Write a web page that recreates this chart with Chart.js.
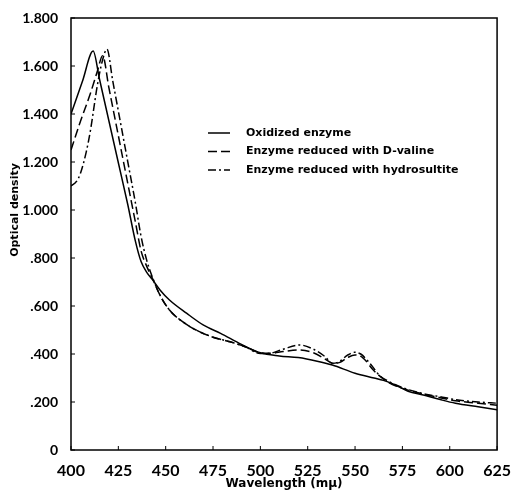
<!DOCTYPE html>
<html>
<head>
<meta charset="utf-8">
<script src="https://cdn.jsdelivr.net/npm/chart.js@4.4.0/dist/chart.umd.min.js"></script>
<style>
  html, body { margin: 0; padding: 0; background: #fff; }
</style>
</head>
<body>
<canvas id="spectrumChart" width="514" height="493"></canvas>
<script>
// Absorption spectra (wavelength in mμ, optical density)
const seriesLabels = ['Oxidized enzyme', 'Enzyme reduced with D-valine', 'Enzyme reduced with hydrosultite'];

const oxidizedWl = [400, 406, 411.7, 415, 420, 425, 430, 434, 437, 440, 443, 447, 452, 461, 470, 479, 490, 500, 510, 520, 530, 538, 550, 560, 565, 570, 578, 586, 595, 603, 615, 625];
const oxidizedOd = [1.40, 1.535, 1.662, 1.547, 1.372, 1.197, 1.022, 0.87, 0.785, 0.74, 0.71, 0.667, 0.625, 0.57, 0.52, 0.486, 0.44, 0.405, 0.392, 0.385, 0.37, 0.354, 0.32, 0.30, 0.29, 0.275, 0.245, 0.229, 0.21, 0.195, 0.18, 0.168];

const valineWl = [400, 405, 410, 414, 416.7, 420, 425, 430, 434, 437, 440, 443, 447, 452, 458, 466, 475, 484, 492, 500, 505, 512, 520, 528, 534, 538.3, 542, 546, 550, 554, 560, 566, 572, 580, 586, 595, 603, 615, 625];
const valineOd = [1.25, 1.37, 1.48, 1.58, 1.643, 1.51, 1.31, 1.11, 0.95, 0.83, 0.765, 0.715, 0.645, 0.583, 0.54, 0.50, 0.47, 0.451, 0.43, 0.405, 0.403, 0.41, 0.417, 0.405, 0.38, 0.361, 0.365, 0.385, 0.396, 0.385, 0.33, 0.29, 0.265, 0.245, 0.233, 0.218, 0.205, 0.195, 0.186];

const hydroWl = [400, 403, 405, 408, 410.3, 413.8, 416.5, 419, 422, 426, 430, 434, 437, 440, 443, 447, 452, 458, 466, 475, 484, 492, 500, 505, 512, 520.8, 528, 534, 538.3, 542, 546, 549.7, 553, 558, 563, 568, 575, 586, 595, 603, 615, 625];
const hydroOd = [1.10, 1.12, 1.153, 1.24, 1.333, 1.514, 1.62, 1.67, 1.54, 1.37, 1.20, 1.03, 0.89, 0.79, 0.72, 0.645, 0.583, 0.54, 0.50, 0.47, 0.451, 0.43, 0.402, 0.403, 0.42, 0.4375, 0.42, 0.39, 0.361, 0.37, 0.395, 0.407, 0.40, 0.36, 0.31, 0.285, 0.26, 0.235, 0.222, 0.21, 0.20, 0.195];

const xTicks = [400, 425, 450, 475, 500, 525, 550, 575, 600, 625];
const yTicks = [0, 0.2, 0.4, 0.6, 0.8, 1.0, 1.2, 1.4, 1.6, 1.8];
const yTickLabels = ['0', '.200', '.400', '.600', '.800', '1.000', '1.200', '1.400', '1.600', '1.800'];
const yTitle = 'Optical density';

const toPoints = (wl, od) => wl.map((x, i) => ({ x: x, y: od[i] }));

const fontFamily = '"DejaVu Sans", sans-serif';
const tickFamily = 'Lato, "DejaVu Sans", sans-serif';

// Draws the box round the plot, the small inward tick marks and the y title
const framePlugin = {
    id: 'frame',
    afterDraw(chart) {
        const ctx = chart.ctx;
        const area = chart.chartArea;
        const xs = chart.scales.x;
        const ys = chart.scales.y;
        ctx.save();
        ctx.strokeStyle = '#000';
        ctx.lineWidth = 1.5;
        ctx.strokeRect(area.left, area.top, area.right - area.left, area.bottom - area.top);
        ctx.lineWidth = 1;
        ctx.beginPath();
        xTicks.forEach(v => {
            const px = xs.getPixelForValue(v);
            ctx.moveTo(px, area.bottom);
            ctx.lineTo(px, area.bottom - 4);
        });
        yTicks.forEach(v => {
            const py = ys.getPixelForValue(v);
            ctx.moveTo(area.left, py);
            ctx.lineTo(area.left + 4, py);
        });
        ctx.stroke();

        // y axis title sits a little above the middle in the original
        ctx.translate(15, ys.getPixelForValue(1.0));
        ctx.rotate(-Math.PI / 2);
        ctx.font = 'bold 11px ' + fontFamily;
        ctx.fillStyle = '#000';
        ctx.textAlign = 'center';
        ctx.textBaseline = 'middle';
        ctx.fillText(yTitle, 0, 0);
        ctx.restore();
    }
};

// Legend drawn inside the plot area, like the original figure
const insideLegend = {
    id: 'insideLegend',
    afterDatasetsDraw(chart) {
        const ctx = chart.ctx;
        const area = chart.chartArea;
        const x0 = area.left + 137;
        const y0 = area.top + 115;
        ctx.save();
        ctx.font = 'bold 11px ' + fontFamily;
        ctx.textBaseline = 'middle';
        ctx.fillStyle = '#000';
        chart.data.datasets.forEach((ds, i) => {
            const y = y0 + i * 18.5;
            ctx.strokeStyle = '#000';
            ctx.lineWidth = ds.borderWidth;
            ctx.setLineDash(ds.borderDash || []);
            ctx.beginPath();
            ctx.moveTo(x0, y);
            ctx.lineTo(x0 + 22, y);
            ctx.stroke();
            ctx.setLineDash([]);
            ctx.fillText(ds.label, x0 + 38, y);
        });
        ctx.restore();
    }
};

const ctx = document.getElementById('spectrumChart').getContext('2d');

new Chart(ctx, {
    type: 'line',
    data: {
        datasets: [
            {
                label: seriesLabels[0],
                data: toPoints(oxidizedWl, oxidizedOd),
                borderColor: '#000',
                borderWidth: 1.5
            },
            {
                label: seriesLabels[1],
                data: toPoints(valineWl, valineOd),
                borderColor: '#000',
                borderWidth: 1.5,
                borderDash: [9, 4]
            },
            {
                label: seriesLabels[2],
                data: toPoints(hydroWl, hydroOd),
                borderColor: '#000',
                borderWidth: 1.5,
                borderDash: [8, 3, 2, 3]
            }
        ]
    },
    options: {
        responsive: false,
        animation: false,
        events: [],
        elements: {
            point: { radius: 0 },
            line: { cubicInterpolationMode: 'monotone', fill: false }
        },
        layout: {
            padding: { top: 18, right: 15, left: 0, bottom: 0 }
        },
        plugins: {
            legend: { display: false },
            tooltip: { enabled: false }
        },
        scales: {
            x: {
                type: 'linear',
                min: 400,
                max: 625,
                afterBuildTicks: scale => {
                    scale.ticks = xTicks.map(v => ({ value: v }));
                },
                afterFit: scale => { scale.height = 43; },
                grid: { display: false },
                border: { display: false },
                ticks: {
                    color: '#000',
                    padding: 3,
                    maxRotation: 0,
                    autoSkip: false,
                    font: { family: tickFamily, size: 16, weight: 'bold' },
                    callback: value => String(value)
                },
                title: {
                    display: true,
                    text: 'Wavelength (mμ)',
                    color: '#000',
                    padding: { top: 0, bottom: 2 },
                    font: { family: fontFamily, size: 12, weight: 'bold' }
                }
            },
            y: {
                min: 0,
                max: 1.8,
                afterBuildTicks: scale => {
                    scale.ticks = yTicks.map(v => ({ value: v }));
                },
                afterFit: scale => { scale.width = 71; },
                grid: { display: false },
                border: { display: false },
                ticks: {
                    color: '#000',
                    padding: 5,
                    autoSkip: false,
                    font: { family: tickFamily, size: 14, weight: 'bold' },
                    callback: (value, index) => yTickLabels[index]
                },
                title: { display: false }
            }
        }
    },
    plugins: [framePlugin, insideLegend]
});
</script>
</body>
</html>
